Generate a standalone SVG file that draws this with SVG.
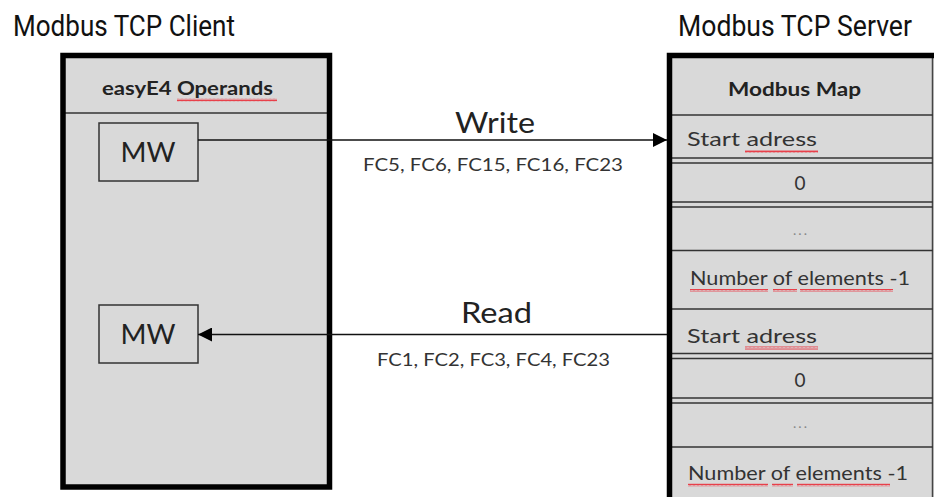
<svg xmlns="http://www.w3.org/2000/svg" width="934" height="497" viewBox="0 0 934 497">
<style>
.title{font-family:Roboto,"Liberation Sans",sans-serif;font-size:29px;fill:#111}
.hdr{font-family:Lato,"Liberation Sans",sans-serif;font-weight:bold;font-size:18px;fill:#222}
.cell{font-family:Lato,"Liberation Sans",sans-serif;font-size:19px;fill:#333}
.mw{font-family:Lato,"Liberation Sans",sans-serif;font-size:27px;fill:#222}
.lbl{font-family:Lato,"Liberation Sans",sans-serif;font-size:28px;fill:#222}
.fc{font-family:Lato,"Liberation Sans",sans-serif;font-size:17px;fill:#333}
.dots{font-family:Lato,"Liberation Sans",sans-serif;font-size:14px;fill:#888;letter-spacing:2px}
.panel{fill:#d9d9d9}
.thick{stroke:#000;stroke-width:5.5;fill:none}
.div{stroke:#333;stroke-width:1.5;fill:none}
.box{fill:#d9d9d9;stroke:#333;stroke-width:1.5}
.conn{stroke:#111;stroke-width:1.5;fill:none}
.sq{fill:url(#squig)}
</style>
<defs>
<marker id="arr" markerWidth="14" markerHeight="14" refX="14" refY="7" orient="auto" markerUnits="userSpaceOnUse">
<path d="M0,0 L14,7 L0,14 Z" fill="#000"/>
</marker>
<pattern id="squig" width="4" height="3" patternUnits="userSpaceOnUse">
<path d="M0,2.5 L1,0.5 L2,2.5 L3,0.5 L4,2.5" stroke="#e8404a" stroke-width="1" fill="none"/>
</pattern>
</defs>
<rect width="934" height="497" fill="#fff"/>

<g id="client-title"><text class="title" x="13" y="36" textLength="222" lengthAdjust="spacingAndGlyphs">Modbus TCP Client</text></g>
<g id="server-title"><text class="title" x="678" y="36" textLength="234" lengthAdjust="spacingAndGlyphs">Modbus TCP Server</text></g>

<g id="client">
<rect class="panel" x="63" y="55.5" width="266.5" height="431.5"/>
<line class="div" x1="65" y1="113" x2="328" y2="113"/>
<text class="hdr" x="102" y="95" textLength="171" lengthAdjust="spacingAndGlyphs">easyE4 Operands</text>
<rect class="sq" x="177" y="98.5" width="100" height="3"/>
<rect class="thick" x="63" y="55.5" width="266.5" height="431.5"/>
</g>

<g id="mw-write">
<rect class="box" x="99" y="123" width="99" height="58"/>
<text class="mw" x="148" y="161.5" text-anchor="middle" textLength="55" lengthAdjust="spacingAndGlyphs">MW</text>
</g>
<g id="mw-read">
<rect class="box" x="99" y="305" width="99" height="58"/>
<text class="mw" x="148" y="344" text-anchor="middle" textLength="55" lengthAdjust="spacingAndGlyphs">MW</text>
</g>

<g id="server">
<rect class="panel" x="669.5" y="55.5" width="264.5" height="441.5"/>
<line x1="932.5" y1="55" x2="932.5" y2="497" stroke="#444" stroke-width="1.5"/>
<text class="hdr" x="794.5" y="96" text-anchor="middle" textLength="133" lengthAdjust="spacingAndGlyphs">Modbus Map</text>
<line class="div" x1="671" y1="115" x2="933" y2="115"/>
<g id="row-start-1">
<text class="cell" x="687" y="146" textLength="130" lengthAdjust="spacingAndGlyphs">Start adress</text>
<rect class="sq" x="745" y="150" width="73" height="3"/>
<line class="div" x1="671" y1="158" x2="933" y2="158"/>
<line class="div" x1="671" y1="163" x2="933" y2="163"/>
</g>
<g id="row-zero-1">
<text class="cell" x="800" y="190" text-anchor="middle">0</text>
<line class="div" x1="671" y1="202" x2="933" y2="202"/>
<line class="div" x1="671" y1="207" x2="933" y2="207"/>
</g>
<g id="row-dots-1">
<text class="dots" x="801" y="235" text-anchor="middle">...</text>
<line class="div" x1="671" y1="250.5" x2="933" y2="250.5"/>
</g>
<g id="row-num-1">
<text class="cell" x="690" y="285" textLength="220" lengthAdjust="spacingAndGlyphs">Number of elements -1</text>
<rect class="sq" x="690" y="289" width="78" height="3"/>
<rect class="sq" x="773" y="289" width="24" height="3"/>
<rect class="sq" x="800" y="289" width="93" height="3"/>
<line class="div" x1="671" y1="309" x2="933" y2="309"/>
</g>
<g id="row-start-2">
<text class="cell" x="687" y="343" textLength="130" lengthAdjust="spacingAndGlyphs">Start adress</text>
<rect class="sq" x="745" y="346.5" width="73" height="3"/>
<line class="div" x1="671" y1="353.5" x2="933" y2="353.5"/>
<line class="div" x1="671" y1="358.5" x2="933" y2="358.5"/>
</g>
<g id="row-zero-2">
<text class="cell" x="800" y="387" text-anchor="middle">0</text>
<line class="div" x1="671" y1="398" x2="933" y2="398"/>
<line class="div" x1="671" y1="403" x2="933" y2="403"/>
</g>
<g id="row-dots-2">
<text class="dots" x="801" y="428" text-anchor="middle">...</text>
<line class="div" x1="671" y1="447" x2="933" y2="447"/>
</g>
<g id="row-num-2">
<text class="cell" x="688" y="480" textLength="220" lengthAdjust="spacingAndGlyphs">Number of elements -1</text>
<rect class="sq" x="688" y="483.5" width="80" height="3"/>
<rect class="sq" x="772" y="483.5" width="21" height="3"/>
<rect class="sq" x="797" y="483.5" width="93" height="3"/>
</g>
<path class="thick" d="M669.5,497 V55.5 H934"/>
</g>

<g id="connectors">
<line class="conn" x1="198" y1="140" x2="667" y2="140" marker-end="url(#arr)"/>
<text class="lbl" x="495" y="133" text-anchor="middle" textLength="80" lengthAdjust="spacingAndGlyphs">Write</text>
<text class="fc" x="493" y="171" text-anchor="middle" textLength="260" lengthAdjust="spacingAndGlyphs">FC5, FC6, FC15, FC16, FC23</text>
<line class="conn" x1="667" y1="334.5" x2="198" y2="334.5" marker-end="url(#arr)"/>
<text class="lbl" x="496.5" y="323" text-anchor="middle" textLength="71" lengthAdjust="spacingAndGlyphs">Read</text>
<text class="fc" x="493.5" y="366" text-anchor="middle" textLength="233" lengthAdjust="spacingAndGlyphs">FC1, FC2, FC3, FC4, FC23</text>
</g>
</svg>
